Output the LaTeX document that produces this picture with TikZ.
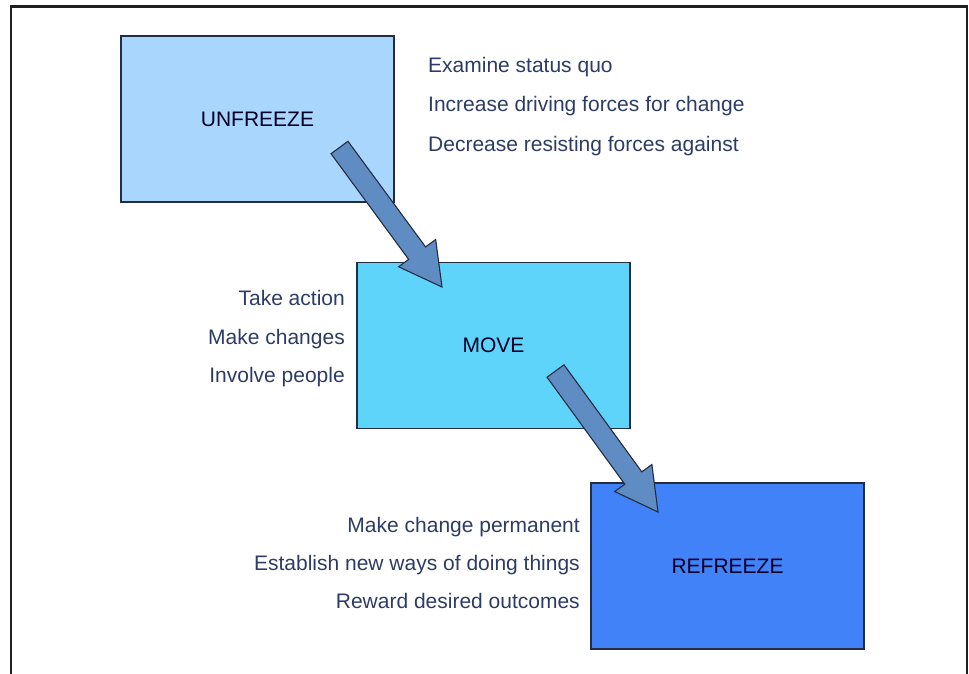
\documentclass[tikz,border=0pt]{standalone}
\usepackage{fontspec}
\setmainfont{Liberation Sans}
\usepackage{tikz}
\usetikzlibrary{calc}
\usetikzlibrary{positioning}

\definecolor{unfreezeblue}{RGB}{168,214,252}
\definecolor{moveblue}{RGB}{94,212,250}
\definecolor{refreezeblue}{RGB}{66,130,248}
\definecolor{arrowblue}{RGB}{96,140,196}
\definecolor{edgegray}{RGB}{35,45,65}
\definecolor{labelblue}{RGB}{45,60,100}

\tikzset{
	stagebox/.style={draw=edgegray, line width=1.2pt, minimum width=273pt, minimum height=166pt, inner sep=0pt, font=\fontsize{21}{25}\selectfont, text=black!85!blue},
	steptext/.style={font=\fontsize{21}{25}\selectfont, text=labelblue, inner sep=0pt},
	bigarrow/.style={draw=edgegray, line width=1.1pt, fill=arrowblue, line join=miter}
}

\begin{document}
\begin{tikzpicture}[x=1pt,y=-1pt]
		\useasboundingbox (0,0) rectangle (969,674);
		% frame, open at the bottom
		\draw[line width=2.4pt, black!88] (11,674) -- (11,6.5) -- (967,6.5) -- (967,674);

		% the three stages
		\node[stagebox, fill=unfreezeblue] (unfreeze) at (257.5,119) {UNFREEZE};
		\node[stagebox, fill=moveblue] (move) at (493.5,345.5) {MOVE};
		\node[stagebox, fill=refreezeblue] (refreeze) at (727.5,566) {REFREEZE};

		% what to do in each stage
		\node[steptext, anchor=base west] (ua) at (428,73) {Examine status quo};
		\node[steptext, anchor=base west] (ub) at (428,112) {Increase driving forces for change};
		\node[steptext, anchor=base west] (uc) at (428,151) {Decrease resisting forces against};

		\node[steptext, anchor=base east] (ma) at (345,305) {Take action};
		\node[steptext, anchor=base east] (mb) at (345,344) {Make changes};
		\node[steptext, anchor=base east] (mc) at (345,382) {Involve people};

		\node[steptext, anchor=base east] (ra) at (580,532) {Make change permanent};
		\node[steptext, anchor=base east] (rb) at (580,570) {Establish new ways of doing things};
		\node[steptext, anchor=base east] (rc) at (580,608) {Reward desired outcomes};

		% block arrows between the stages
		\coordinate (umtail) at (339.5,147.5);
		\coordinate (umtip) at (442,287);
		\coordinate (mrtail) at (555.5,371);
		\coordinate (mrtip) at (658,512);
		\foreach \s/\t in {umtail/umtip, mrtail/mrtip} {
			\coordinate (hb) at ($(\t)!42pt!(\s)$);
			\draw[bigarrow] ($(\s)!10.5pt!90:(\t)$) -- ($(hb)!10.5pt!90:(\t)$) -- ($(hb)!23pt!90:(\t)$)
				-- (\t) -- ($(hb)!23pt!-90:(\t)$) -- ($(hb)!10.5pt!-90:(\t)$) -- ($(\s)!10.5pt!-90:(\t)$) -- cycle;
		}
	\end{tikzpicture}
\end{document}
